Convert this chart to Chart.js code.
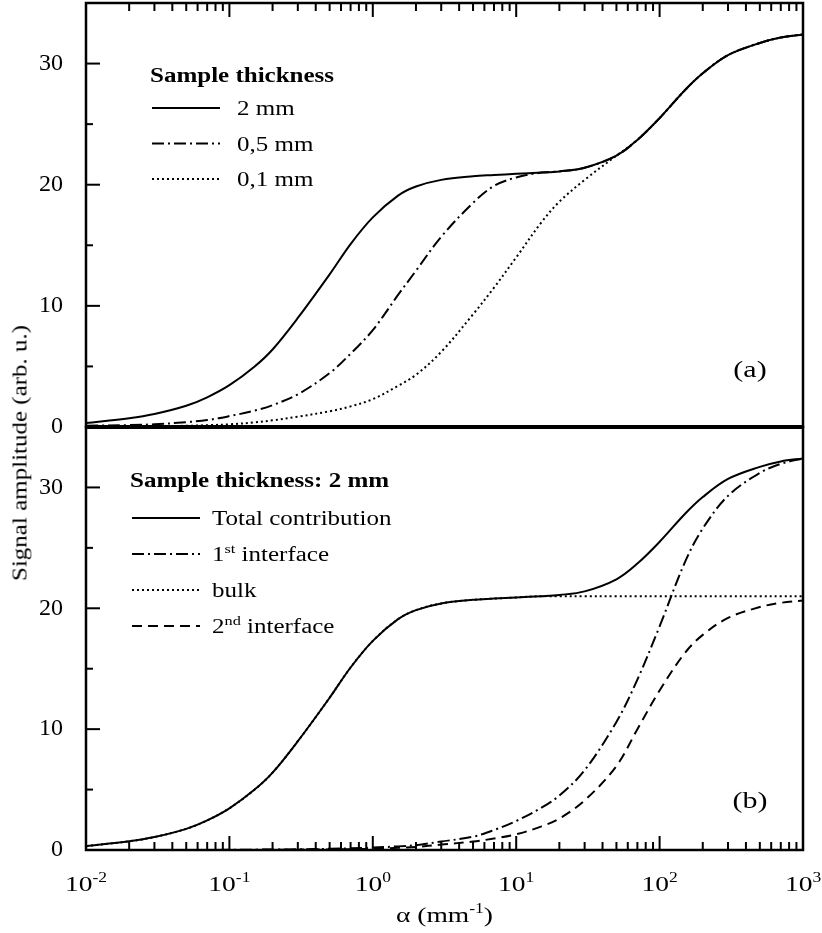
<!DOCTYPE html>
<html>
<head>
<meta charset="utf-8">
<script src="https://cdn.jsdelivr.net/npm/chart.js@4.4.1/dist/chart.umd.min.js"></script>
<style>
  html, body { margin: 0; padding: 0; background: #fff; }
  #wrap { position: relative; width: 822px; height: 933px; overflow: hidden; }
  canvas { position: absolute; left: 0; }
  #topChart { top: 0; }
  #bottomChart { top: 420px; }
  #ytitle {
    position: absolute; left: 20px; top: 453px;
    transform: translate(-50%, -50%) rotate(-90deg) scaleX(1.25);
    font: 20px 'Liberation Serif', serif; white-space: nowrap; color: #000;
  }
</style>
</head>
<body>
<div id="wrap">
  <canvas id="topChart" width="822" height="445"></canvas>
  <canvas id="bottomChart" width="822" height="513"></canvas>
  <div id="ytitle">Signal amplitude (arb. u.)</div>
</div>
<script>
// alpha (mm^-1) sample points
const alpha = [0.01, 0.02, 0.03, 0.05, 0.07, 0.1, 0.15, 0.2, 0.3, 0.5, 0.7, 1, 1.5, 2, 3, 5, 7, 10,
               15, 20, 30, 50, 70, 100, 150, 200, 300, 500, 700, 1000];

// panel (a): three sample thicknesses
const thick2mm  = [0.32, 0.72, 1.07, 1.75, 2.45, 3.45, 5.0, 6.4, 9.0, 12.6, 15.1, 17.3, 19.1, 19.85, 20.4, 20.7, 20.8, 20.9,
                   21.0, 21.1, 21.4, 22.4, 23.7, 25.5, 27.8, 29.2, 30.7, 31.7, 32.15, 32.4];
const thick05mm = [0.1, 0.16, 0.22, 0.4, 0.57, 0.9, 1.35, 1.8, 2.7, 4.45, 6.05, 8.0, 10.9, 12.9, 15.7, 18.5, 19.9, 20.6,
                   21.0, 21.1, 21.4, 22.4, 23.7, 25.5, 27.8, 29.2, 30.7, 31.7, 32.15, 32.4];
const thick01mm = [0.02, 0.04, 0.06, 0.1, 0.15, 0.22, 0.38, 0.55, 0.85, 1.3, 1.7, 2.3, 3.4, 4.3, 6.2, 9.3, 11.5, 14.0,
                   16.9, 18.6, 20.4, 22.4, 23.7, 25.5, 27.8, 29.2, 30.7, 31.7, 32.15, 32.4];

// panel (b): contributions, 2 mm sample
const totalContrib = [0.32, 0.72, 1.07, 1.75, 2.45, 3.45, 5.0, 6.4, 9.0, 12.6, 15.1, 17.3, 19.1, 19.85, 20.4, 20.7, 20.8, 20.9,
                      21.0, 21.1, 21.4, 22.4, 23.7, 25.5, 27.8, 29.2, 30.7, 31.7, 32.15, 32.4];
const firstIface   = [0, 0, 0, 0, 0, 0.02, 0.03, 0.04, 0.06, 0.1, 0.14, 0.2, 0.3, 0.4, 0.7, 1.1, 1.65, 2.4,
                      3.5, 4.5, 6.6, 10.6, 14.1, 18.5, 23.8, 26.6, 29.3, 31.2, 31.95, 32.4];
const bulk         = [0.32, 0.72, 1.07, 1.75, 2.45, 3.45, 5.0, 6.4, 9.0, 12.6, 15.1, 17.3, 19.1, 19.85, 20.4, 20.7, 20.8, 20.9,
                      21.0, 21.0, 21.0, 21.0, 21.0, 21.0, 21.0, 21.0, 21.0, 21.0, 21.0, 21.0];
const secondIface  = [0, 0, 0, 0, 0, 0, 0.01, 0.02, 0.03, 0.05, 0.07, 0.1, 0.18, 0.25, 0.45, 0.7, 0.95, 1.3,
                      1.95, 2.6, 4.1, 6.95, 10.0, 13.2, 16.3, 17.8, 19.2, 20.1, 20.45, 20.65];

// axes
const yMajor = [0, 10, 20, 30];
const yMinor = [5, 15, 25];
const xDecades = [0.01, 0.1, 1, 10, 100, 1000];
const xExponents = ['-2', '-1', '0', '1', '2', '3'];

// legend texts ({..} = superscript)
const legendATitle = 'Sample thickness';
const legendALabels = ['2 mm', '0,5 mm', '0,1 mm'];
const legendBTitle = 'Sample thickness: 2 mm';
const legendBLabels = ['Total contribution', '1{st} interface', 'bulk', '2{nd} interface'];
const xTitle = 'α (mm{-1})';

const SERIF = "'Liberation Serif', 'Times New Roman', serif";
const STRETCH = 1.25;
const DASH = { solid: [], dashDot: [12, 4, 2, 4], dotted: [2, 3], dashed: [10, 6] };

function parseRich(s) {
  const parts = [];
  s.split(/(\{[^}]*\})/).forEach(p => {
    if (!p) return;
    if (p[0] === '{') parts.push([p.slice(1, -1), true]);
    else parts.push([p, false]);
  });
  return parts;
}

function drawRich(ctx, str, x, y, size, align, bold) {
  const parts = parseRich(str);
  const weight = bold ? 'bold ' : '';
  const supSize = Math.round(size * 0.65);
  const widths = parts.map(([t, sup]) => {
    ctx.font = weight + (sup ? supSize : size) + 'px ' + SERIF;
    return ctx.measureText(t).width * STRETCH;
  });
  const total = widths.reduce((a, b) => a + b, 0);
  let cx = align === 'center' ? x - total / 2 : x;
  ctx.textAlign = 'left';
  ctx.textBaseline = 'alphabetic';
  parts.forEach(([t, sup], i) => {
    ctx.font = weight + (sup ? supSize : size) + 'px ' + SERIF;
    ctx.save();
    ctx.translate(cx, sup ? y - size * 0.4 : y);
    ctx.scale(STRETCH, 1);
    ctx.fillText(t, 0, 0);
    ctx.restore();
    cx += widths[i];
  });
}

function line(ctx, x1, y1, x2, y2) {
  ctx.beginPath(); ctx.moveTo(x1, y1); ctx.lineTo(x2, y2); ctx.stroke();
}

const decor = {
  id: 'decor',
  afterDraw(chart, args, opts) {
    const { ctx, chartArea: ca, scales: { x, y } } = chart;
    ctx.save();
    ctx.strokeStyle = '#000';
    ctx.fillStyle = '#000';
    ctx.lineCap = 'butt';

    // inward ticks, left axis
    ctx.lineWidth = 2;
    yMajor.forEach(v => { const py = y.getPixelForValue(v); line(ctx, ca.left, py, ca.left + 14, py); });
    yMinor.forEach(v => { const py = y.getPixelForValue(v); line(ctx, ca.left, py, ca.left + 7, py); });

    // inward ticks, x axis (top edge for (a), bottom edge for (b))
    const edge = opts.xTicksTop ? ca.top : ca.bottom;
    const dir = opts.xTicksTop ? 1 : -1;
    xDecades.forEach((d, i) => {
      const px = x.getPixelForValue(d);
      line(ctx, px, edge, px, edge + dir * 14);
      if (i < xDecades.length - 1) {
        for (let m = 2; m <= 9; m++) {
          const pm = x.getPixelForValue(d * m);
          line(ctx, pm, edge, pm, edge + dir * 8);
        }
      }
    });

    // frame
    ctx.lineWidth = 2.5;
    ctx.strokeRect(ca.left, ca.top, ca.right - ca.left, ca.bottom - ca.top);
    if (opts.thickTop) { ctx.lineWidth = 4; line(ctx, ca.left, ca.top, ca.right, ca.top); }

    // panel letter
    drawRich(ctx, opts.letter, ca.right - 53, ca.bottom - opts.letterUp, 24, 'center');

    // legend
    const lg = opts.legend;
    const x0 = ca.left + lg.dx, y0 = ca.top + lg.dy;
    drawRich(ctx, lg.title, x0, y0, 20, 'left', true);
    lg.labels.forEach((lab, i) => {
      const ly = y0 + lg.first + i * lg.step;
      ctx.lineWidth = 2;
      ctx.setLineDash(lg.dashes[i]);
      line(ctx, x0 + 2, ly, x0 + 70, ly);
      ctx.setLineDash([]);
      drawRich(ctx, lab, x0 + lg.textDx, ly + 7, 20, 'left');
    });

    // x tick labels and axis title (bottom panel only)
    if (opts.xLabels) {
      xDecades.forEach((d, i) => {
        drawRich(ctx, '10{' + xExponents[i] + '}', x.getPixelForValue(d), ca.bottom + 41, 22, 'center');
      });
      drawRich(ctx, xTitle, (ca.left + ca.right) / 2, ca.bottom + 72, 22, 'center');
    }
    ctx.restore();
  }
};

function series(label, values, dash) {
  return {
    label,
    data: alpha.map((a, i) => ({ x: a, y: values[i] })),
    borderColor: '#000',
    borderWidth: 2,
    borderDash: dash,
    pointRadius: 0,
    fill: false,
    tension: 0.35
  };
}

function makeOptions(padding, decorOpts) {
  return {
    responsive: false,
    animation: false,
    devicePixelRatio: 1,
    layout: { padding },
    plugins: { legend: { display: false }, tooltip: { enabled: false }, decor: decorOpts },
    scales: {
      x: { type: 'logarithmic', min: 0.01, max: 1000, display: false },
      y: {
        min: 0, max: 35,
        grid: { display: false },
        border: { display: false },
        afterBuildTicks: s => { s.ticks = yMajor.map(v => ({ value: v })); },
        afterFit: s => { s.width = 86; s.paddingTop = 0; s.paddingBottom = 0; },
        ticks: { color: '#000', padding: 15, font: { family: SERIF, size: 24 } }
      }
    }
  };
}

new Chart(document.getElementById('topChart'), {
  type: 'line',
  data: {
    datasets: [
      series(legendALabels[0], thick2mm, DASH.solid),
      series(legendALabels[1], thick05mm, DASH.dashDot),
      series(legendALabels[2], thick01mm, DASH.dotted)
    ]
  },
  options: makeOptions({ top: 3, right: 19, bottom: 18, left: 0 }, {
    xTicksTop: true,
    letter: '(a)',
    letterUp: 50,
    legend: { title: legendATitle, labels: legendALabels, dashes: [DASH.solid, DASH.dashDot, DASH.dotted],
              dx: 64, dy: 79, first: 26, step: 35.5, textDx: 87 }
  }),
  plugins: [decor]
});

new Chart(document.getElementById('bottomChart'), {
  type: 'line',
  data: {
    datasets: [
      series(legendBLabels[0], totalContrib, DASH.solid),
      series(legendBLabels[1], firstIface, DASH.dashDot),
      series(legendBLabels[2], bulk, DASH.dotted),
      series(legendBLabels[3], secondIface, DASH.dashed)
    ]
  },
  options: makeOptions({ top: 7, right: 19, bottom: 83, left: 0 }, {
    xTicksTop: false,
    xLabels: true,
    thickTop: true,
    letter: '(b)',
    letterUp: 42,
    legend: { title: legendBTitle, labels: legendBLabels,
              dashes: [DASH.solid, DASH.dashDot, DASH.dotted, DASH.dashed],
              dx: 44, dy: 60, first: 31, step: 36, textDx: 82 }
  }),
  plugins: [decor]
});
</script>
</body>
</html>
